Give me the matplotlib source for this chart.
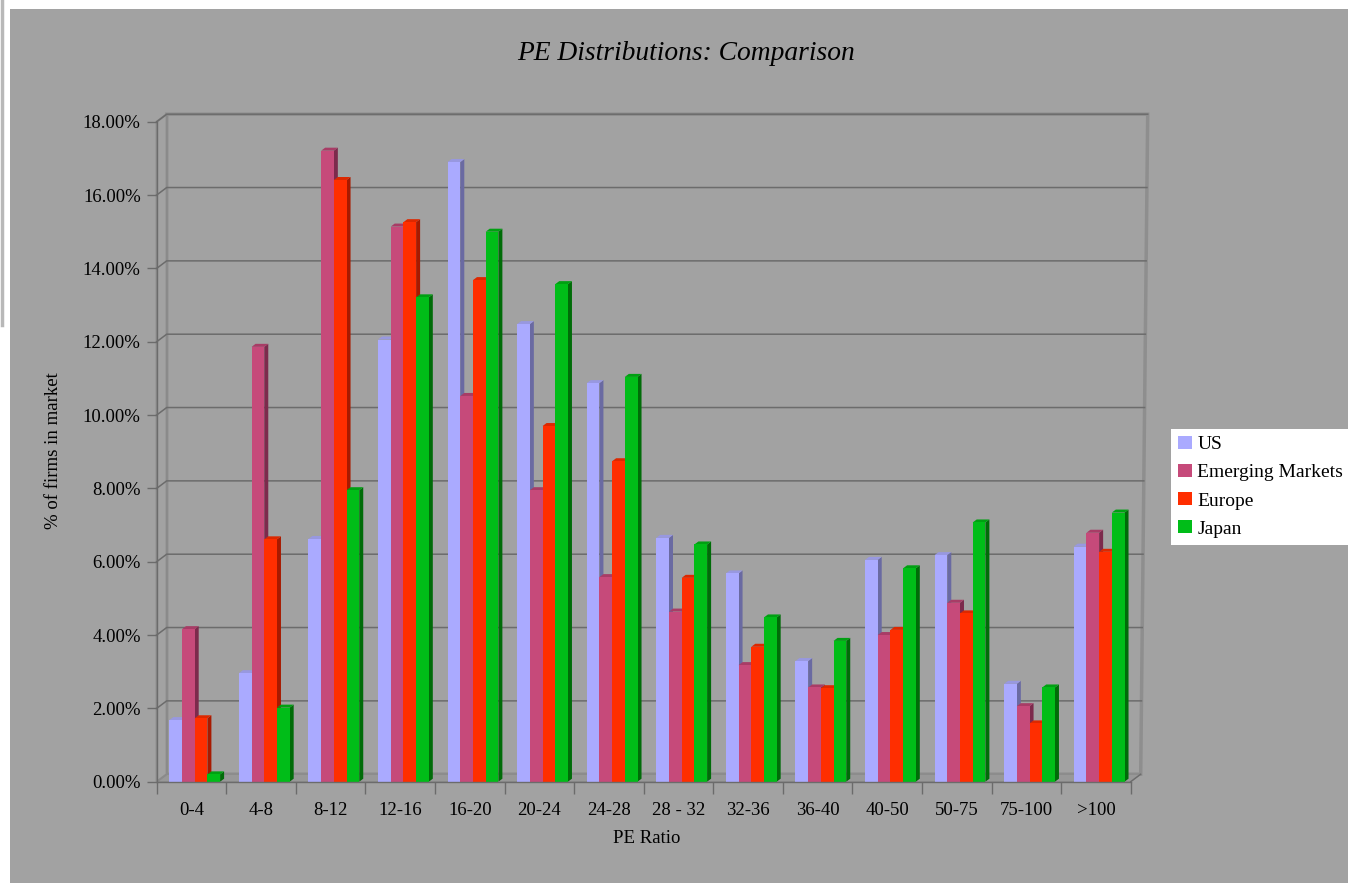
import matplotlib.pyplot as plt
from matplotlib.patches import Polygon, Rectangle, Patch
from matplotlib.lines import Line2D

plt.rcParams['font.family'] = ['Liberation Serif', 'DejaVu Serif']

ranges = ['0-4', '4-8', '8-12', '12-16', '16-20', '20-24', '24-28', '28 - 32',
          '32-36', '36-40', '40-50', '50-75', '75-100', '>100']
us = [1.68, 2.96, 6.62, 12.06, 16.90, 12.48, 10.87, 6.65, 5.68, 3.29, 6.05, 6.18, 2.67, 6.41]
emerging = [4.16, 11.86, 17.21, 15.14, 10.52, 7.95, 5.58, 4.64, 3.18, 2.57, 4.00, 4.88, 2.06, 6.79]
europe = [1.73, 6.61, 16.41, 15.26, 13.68, 9.70, 8.74, 5.56, 3.68, 2.55, 4.14, 4.59, 1.59, 6.27]
japan = [0.20, 2.02, 7.95, 13.21, 15.00, 13.57, 11.04, 6.47, 4.48, 3.84, 5.82, 7.07, 2.57, 7.34]
series_names = ['US', 'Emerging Markets', 'Europe', 'Japan']
series = [us, emerging, europe, japan]

front_colors = ['#aaaaff', '#c64a7a', '#ff2e00', '#00bd18']
top_colors = ['#9898e0', '#a83c66', '#dd2800', '#00a012']
side_colors = ['#6a6aa2', '#7c2a4c', '#a81a00', '#006c08']

BG = '#a2a2a2'
W, H = 1348, 883
fig = plt.figure(figsize=(W / 100, H / 100), dpi=100)
fig.patch.set_facecolor('white')
fig.patches.append(Rectangle((10 / W, 0), 1 - 10 / W, 1 - 9 / H, transform=fig.transFigure,
                             facecolor=BG, edgecolor='none', zorder=-10))
fig.add_artist(Line2D([2 / W, 2 / W], [1, 1 - 325 / H], color='#b8b8b8', lw=2.5))

# front plane of the 3d box, in pixels
x0, x1, yb, yt = 156.7, 1130.7, 781.7, 121.7
ax = fig.add_axes([x0 / W, 1 - yb / H, (x1 - x0) / W, (yb - yt) / H])
ax.set_xlim(0, len(ranges))
ax.set_ylim(0, 18)
ax.patch.set_visible(False)

px_x = (x1 - x0) / len(ranges)
px_y = (yb - yt) / 18
wall_dx, wall_dy = 10 / px_x, 7.5 / px_y
skew = 7 / px_x
bar_dx, bar_dy = 4 / px_x, 3 / px_y
n = len(ranges)

# back wall, floor and side wall
ax.add_patch(Polygon([(wall_dx, wall_dy), (n + wall_dx, wall_dy), (n + wall_dx + skew, 18 + wall_dy),
                      (wall_dx, 18 + wall_dy)], closed=True, facecolor=BG, edgecolor='#8e8e8e',
                     lw=2.5, clip_on=False, zorder=0))
ax.add_patch(Polygon([(0, 0), (n, 0), (n + wall_dx, wall_dy), (wall_dx, wall_dy)], closed=True,
                     facecolor='#989898', edgecolor='#8a8a8a', lw=0.8, clip_on=False, zorder=1))
ax.add_patch(Polygon([(0, 0), (wall_dx, wall_dy), (wall_dx, 18 + wall_dy), (0, 18)], closed=True,
                     facecolor=BG, edgecolor='#8a8a8a', lw=1.5, clip_on=False, zorder=1))

for v in range(2, 19, 2):
    xr = n + wall_dx + skew * v / 18
    ax.plot([0, wall_dx, xr], [v, v + wall_dy, v + wall_dy], color='#6c6c6c', lw=1.1,
            clip_on=False, zorder=2)
ax.plot([n, n + wall_dx], [0, wall_dy], color='#6c6c6c', lw=1.0, clip_on=False, zorder=2)

# clustered bars with side and top faces
lead = 12.6 / px_x
bw = 12.7 / px_x
for j, vals in enumerate(series):
    xs = [i + lead + j * bw for i in range(n)]
    for x, v in zip(xs, vals):
        ax.add_patch(Polygon([(x + bw, 0), (x + bw, v), (x + bw + bar_dx, v + bar_dy),
                              (x + bw + bar_dx, bar_dy)], closed=True, facecolor=side_colors[j],
                             edgecolor='none', clip_on=False, zorder=3 + 2 * j))
        ax.add_patch(Polygon([(x, v), (x + bw, v), (x + bw + bar_dx, v + bar_dy), (x + bar_dx, v + bar_dy)],
                             closed=True, facecolor=top_colors[j], edgecolor='none',
                             clip_on=False, zorder=3 + 2 * j))
    ax.bar(xs, vals, width=bw, align='edge', color=front_colors[j], edgecolor='none',
           zorder=4 + 2 * j, clip_on=False)

for side in ['top', 'right']:
    ax.spines[side].set_visible(False)
for side in ['left', 'bottom']:
    ax.spines[side].set_color('#6b6b6b')
    ax.spines[side].set_linewidth(1.0)
    ax.spines[side].set_zorder(20)

ax.set_yticks(range(0, 19, 2))
ax.set_yticklabels(['%.2f%%' % v for v in range(0, 19, 2)])
ax.tick_params(axis='y', length=7.2, width=1, color='#6b6b6b', pad=4.3, labelsize=13.5)

ax.set_xticks(range(n + 1))
ax.set_xticklabels([])
ax.set_xticks([i + 0.5 for i in range(n)], minor=True)
ax.set_xticklabels(ranges, minor=True)
ax.tick_params(axis='x', which='major', length=8.4, width=1, color='#6b6b6b')
ax.tick_params(axis='x', which='minor', length=0, pad=14.5, labelsize=13.5)

ax.set_xlabel('PE Ratio', fontsize=13.5)
ax.xaxis.set_label_coords((646.7 - x0) / (x1 - x0), (yb - 830) / (yb - yt))
ax.set_ylabel('% of firms in market', fontsize=13.5)
ax.yaxis.set_label_coords((62 - x0) / (x1 - x0), (yb - 451) / (yb - yt))

fig.text(686 / W, 1 - 53 / H, 'PE Distributions: Comparison', ha='center', va='center',
         fontsize=19.8, style='italic')

handles = [Patch(facecolor=c, edgecolor='none') for c in front_colors]
leg = fig.legend(handles, series_names, loc='upper left', bbox_to_anchor=(1170.7 / W, 1 - 429 / H),
                 frameon=True, fancybox=False, fontsize=14, handlelength=0.76, handleheight=0.65,
                 handletextpad=0.25, labelspacing=0.56, borderpad=0.35, borderaxespad=0)
leg.get_frame().set_facecolor('white')
leg.get_frame().set_linewidth(0)
leg.get_frame().set_alpha(1)

fig.savefig('out.png', dpi=100)
